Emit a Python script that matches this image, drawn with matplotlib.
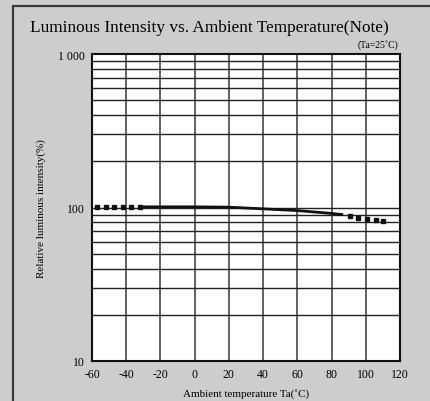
import numpy as np
import matplotlib.pyplot as plt
from matplotlib.patches import Rectangle

# curve
temp_solid = [-30, -10, 0, 20, 40, 60, 80, 86]
lum_solid = [101, 101, 101, 100.5, 98, 95.5, 91.5, 90]
temp_dot_low = [-57, -52, -47, -42, -37, -32]
lum_dot_low = [101, 101, 101, 101, 101, 101]
temp_dot_high = [91, 95.5, 100.5, 106, 110]
lum_dot_high = [88, 86, 84.5, 83.5, 81.8]

xticks = [-60, -40, -20, 0, 20, 40, 60, 80, 100, 120]
yticks = [10, 100, 1000]
ytick_labels = ["10", "100", "1 000"]

plt.rcParams['font.family'] = ['Liberation Serif', 'DejaVu Serif']

W, H = 430, 402
fig = plt.figure(figsize=(W / 100, H / 100), dpi=100)
fig.patch.set_facecolor('#cdcdcd')

# dark frame on left and top edges
fig.add_artist(Rectangle((13 / W, -0.1), 1.2, 1.1 - 7 / H, transform=fig.transFigure,
                         fill=False, edgecolor='#3a3a3a', lw=1.6))

left, right, top, bottom = 92, 400, 55, 362
ax = fig.add_axes([left / W, 1 - bottom / H, (right - left) / W, (bottom - top) / H])
ax.set_facecolor('white')
ax.set_yscale('log')
ax.set_xlim(-60, 120)
ax.set_ylim(10, 1000)

# grid
for x in xticks[1:-1]:
    ax.axvline(x, color='#555555', lw=1.3, zorder=1)
for dec in [10, 100]:
    for m in range(1, 10):
        v = dec * m
        if 10 < v < 1000:
            ax.axhline(v, color='#222222', lw=1.0, zorder=1)

ax.plot(temp_solid, lum_solid, color='#111111', lw=2.0, zorder=3)
ax.plot(temp_dot_low, lum_dot_low, ls='none', marker='s', ms=2.2, color='#111111', zorder=3)
ax.plot(temp_dot_high, lum_dot_high, ls='none', marker='s', ms=2.2, color='#111111', zorder=3)

ax.set_xticks(xticks)
ax.set_xticklabels([str(x) for x in xticks], fontsize=8.5)
ax.set_yticks(yticks)
ax.set_yticklabels(ytick_labels, fontsize=8.5)
ax.yaxis.set_minor_locator(plt.NullLocator())
ax.tick_params(length=0, pad=5)
for s in ax.spines.values():
    s.set_linewidth(1.5)
    s.set_color('#111111')

ax.set_xlabel('Ambient temperature Ta(˚C)', fontsize=8, labelpad=6)
ax.set_ylabel('Relative luminous intensity(%)', fontsize=8, labelpad=9)

fig.text(30 / W, 1 - 28 / H, 'Luminous Intensity vs. Ambient Temperature(Note)',
         fontsize=12.4, va='center', ha='left')
fig.text(398 / W, 1 - 45 / H, '(Ta=25˚C)', fontsize=7, va='center', ha='right')

fig.savefig('out.png', dpi=100, facecolor=fig.get_facecolor())
